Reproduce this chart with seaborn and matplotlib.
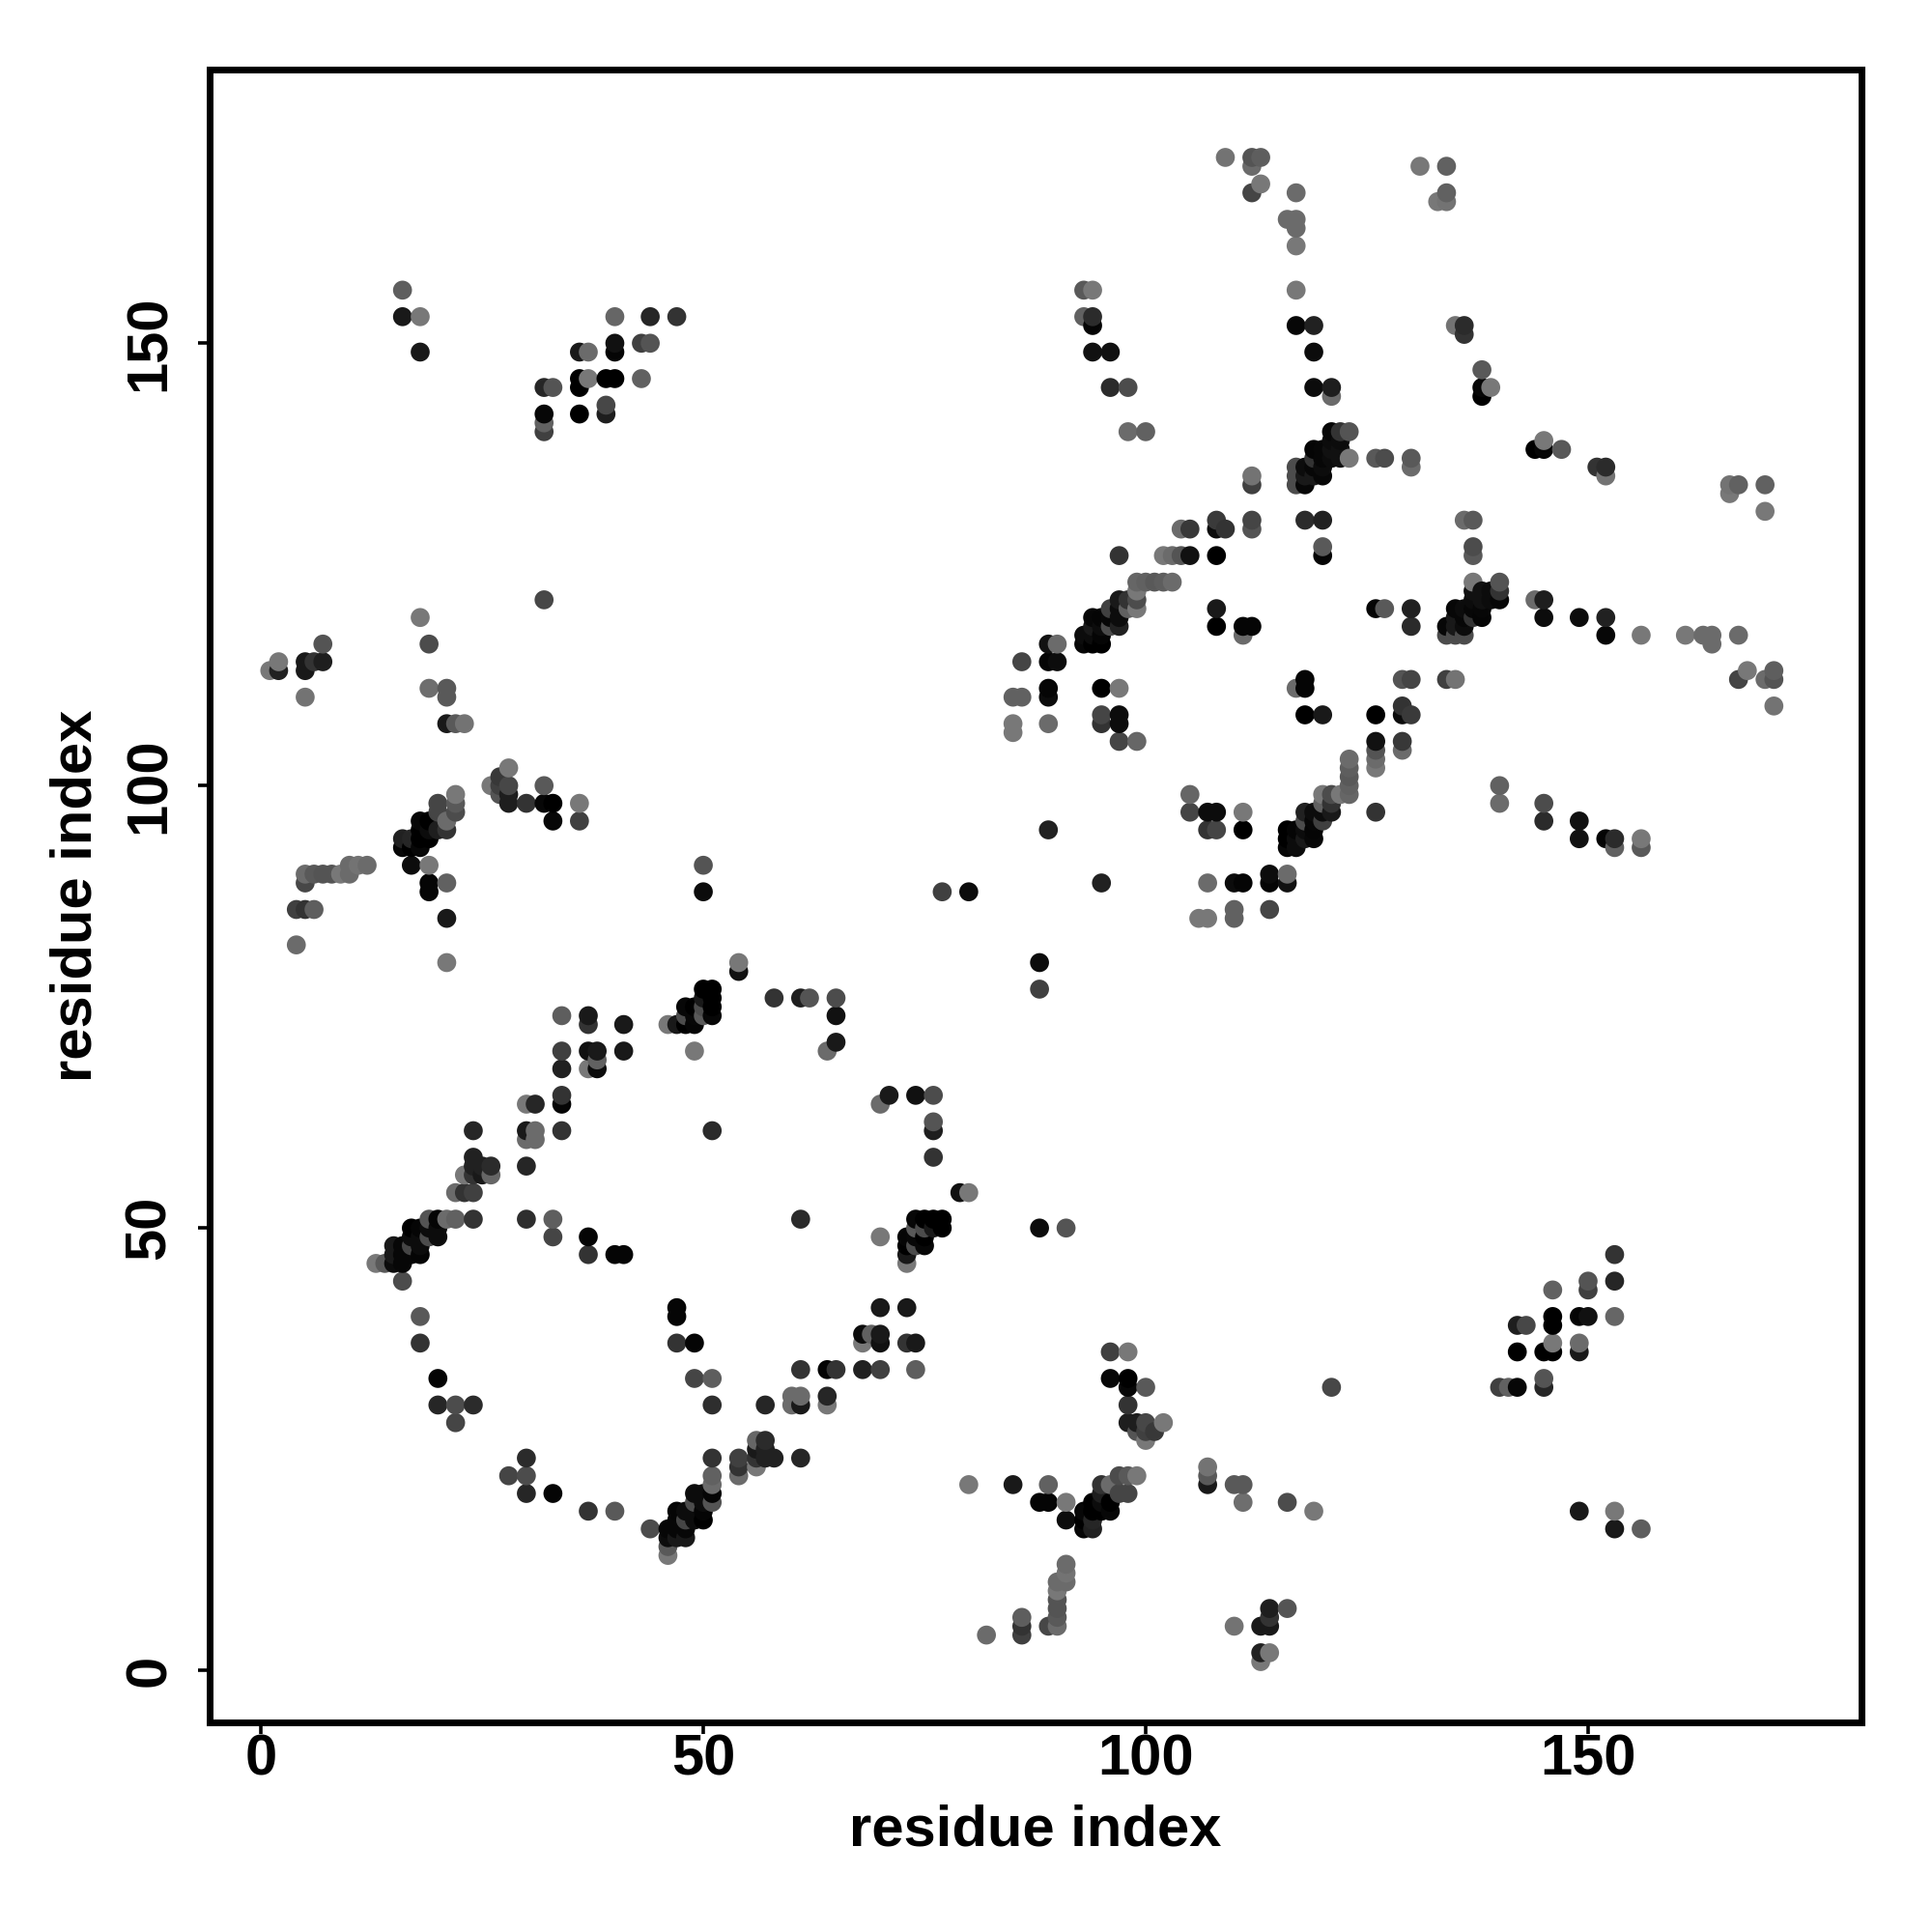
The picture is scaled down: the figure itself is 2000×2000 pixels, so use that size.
# Mapa de contactos entre residuos, la matriz es simetrica asi que
# solo guardo la mitad de arriba (i < j) y la otra sale al espejo

import numpy as np
import pandas as pd
import matplotlib
matplotlib.use("Agg")
import matplotlib.pyplot as plt
import seaborn as sns

# i de cada contacto, bloque por bloque
residue_i = [
    1, 2, 2, 4, 4, 5, 5, 5, 5, 5, 5, 6, 6, 6, 7, 7, 7, 8, 9, 10, 10, 11, 12, 13, 14,
    15, 15, 15, 16, 16, 16, 16, 16, 16, 16, 16,
    17, 17, 17, 17, 17, 17, 17,
    18, 18, 18, 18, 18, 18, 18, 18, 18, 18, 18, 18, 18,
    19, 19, 19, 19, 19, 19, 19, 19, 19, 19, 19,
    20, 20, 20, 20, 20, 20, 20, 20,
    21, 21, 21, 21, 21, 21, 21, 21, 21,
    22, 22, 22, 22, 22, 22, 22, 22,
    23, 23, 23, 24, 24, 24, 24, 24, 24, 24, 25, 25, 26, 26, 26,
    27, 27, 27, 28, 28, 28, 28,
    30, 30, 30, 30, 30, 30, 31, 31, 31,
    32, 32, 32, 32, 32, 32, 32, 33, 33, 33, 33, 33,
    34, 34, 34, 34, 34, 34, 36, 36, 36, 36, 36, 36,
    37, 37, 37, 37, 37, 37, 37, 37, 38, 38, 38, 39, 39, 39,
    40, 40, 40, 40, 40, 41, 41, 41, 43, 43, 44, 44, 46, 47, 47,
    48, 48, 48, 49, 49, 49, 49, 50, 50, 50, 50, 50, 50,
    51, 51, 51, 51, 51, 54, 54, 58, 61, 62, 64, 65, 65, 65, 77, 80,
    85, 85, 85, 86, 86, 89, 89, 89, 89, 89, 89, 90, 90,
    93, 93, 93, 93, 94, 94, 94, 94, 94, 94, 94, 94,
    95, 95, 95, 95, 95, 95, 95, 96, 96, 96, 96, 96,
    97, 97, 97, 97, 97, 97, 97, 97, 97, 98, 98, 98, 98,
    99, 99, 99, 99, 99, 100, 100, 101, 102, 102, 103, 103, 104, 104, 105, 105,
    108, 108, 108, 108, 108, 109, 109, 111, 111,
    112, 112, 112, 112, 112, 112, 112, 112, 113, 113, 116,
    117, 117, 117, 117, 117, 117, 117, 117, 117, 118, 118, 118, 118,
    119, 119, 119, 119, 119, 119, 119,
    120, 120, 120, 120, 120, 120, 120,
    121, 121, 121, 121, 121, 121, 122, 122, 122, 122, 123, 123,
    126, 127, 130, 130, 131, 133, 134, 134, 134, 135, 136, 136, 138, 138, 138, 139,
]

# j de cada contacto, mismo orden
residue_j = [
    113, 113, 114, 82, 86, 86, 89, 90, 110, 113, 114, 86, 90, 114, 90, 114, 116, 90, 90, 90, 91, 91, 91, 46, 46,
    46, 47, 48, 44, 46, 47, 48, 93, 94, 153, 156,
    47, 48, 49, 50, 91, 93, 94,
    37, 40, 47, 48, 49, 50, 93, 94, 95, 96, 119, 149, 153,
    49, 50, 51, 88, 89, 91, 94, 95, 96, 111, 116,
    30, 33, 49, 50, 51, 95, 97, 98,
    51, 80, 85, 89, 95, 96, 107, 110, 111,
    28, 30, 51, 54, 97, 98, 99, 107,
    54, 56, 107, 30, 51, 54, 56, 57, 58, 61, 56, 57, 56, 57, 100,
    99, 100, 101, 98, 99, 100, 102,
    51, 57, 60, 61, 64, 98, 60, 61, 64,
    98, 100, 121, 140, 141, 142, 145, 49, 51, 96, 98, 145,
    61, 64, 65, 68, 70, 74, 96, 98, 142, 145, 146, 149,
    47, 49, 68, 70, 73, 74, 146, 149, 68, 69, 70, 142, 143, 146,
    47, 146, 149, 150, 153, 47, 70, 73, 146, 150, 150, 153, 73, 73, 153,
    73, 74, 75, 70, 73, 74, 75, 74, 75, 76, 77, 88, 91,
    61, 74, 75, 76, 77, 79, 80, 76, 76, 76, 70, 71, 74, 76, 88, 88,
    106, 107, 110, 110, 114, 95, 107, 110, 111, 114, 116, 114, 116,
    116, 117, 153, 156, 116, 117, 118, 119, 149, 152, 153, 156,
    107, 108, 111, 116, 117, 118, 119, 118, 119, 120, 145, 149,
    105, 107, 108, 111, 118, 119, 120, 121, 126, 120, 121, 140, 145,
    105, 120, 121, 122, 123, 123, 140, 123, 123, 126, 123, 126, 126, 129, 126, 129,
    118, 120, 126, 129, 130, 129, 171, 117, 118,
    118, 129, 130, 134, 135, 167, 170, 171, 168, 171, 164,
    134, 135, 136, 152, 156, 161, 163, 164, 167, 130, 134, 135, 136,
    135, 136, 137, 138, 145, 149, 152,
    126, 127, 130, 135, 136, 137, 138,
    137, 138, 139, 140, 144, 145, 137, 138, 139, 140, 137, 140,
    137, 137, 136, 137, 170, 166, 166, 167, 170, 152, 151, 152, 144, 145, 147, 145,
]

# tono de gris de cada punto (0 negro, 0.5 gris medio)
shade = [
    .47, .13, .47, .42, .25, .2, .28, .42, .45, .1, .1, .37, .35, .2, .33, .12, .33, .33, .47, .42, .42, .45, .42, .47, .35,
    .05, .1, .1, .3, .03, .03, .03, .03, .13, .1, .37,
    .03, .27, .05, 0, .05, 0, .15,
    .2, .35, .02, .05, .05, .02, .03, 0, 0, .03, .47, .1, .47,
    .3, .05, .33, .02, .02, .47, 0, .05, 0, .43, .3,
    .15, .02, .05, .05, .02, .12, .27, .27,
    .42, .47, .1, .38, .2, .42, .1, .35, .35,
    .27, .3, .38, .42, .3, .35, .47, .35,
    .2, .47, .45, .17, .2, .25, .2, .13, .13, .15, .1, .13, .4, .17, .47,
    .33, .25, .22, .12, .12, .28, .47,
    .18, .15, .42, .1, .47, .2, .42, .42, .15,
    .03, .35, .28, .25, .38, .03, .15, .27, .37, .03, 0, .33,
    .2, .02, .2, .13, .25, .37, .25, .47, 0, 0, 0, .1,
    .2, .02, .47, .07, .2, .1, .47, .42, .05, .38, .1, .12, .28, 0,
    .02, 0, .02, .07, .4, .02, .1, .1, .38, .25, .33, .15, .47, .1, .2,
    0, .3, .03, .47, .02, .03, 0, .35, .3, .1, 0, .05, .33,
    .17, .03, 0, 0, 0, .07, .47, .2, .12, .33, .42, .1, .07, .3, .25, .05,
    .47, .47, .38, .38, .27, .13, .42, .05, .02, .02, .07, .05, .42,
    .03, .05, .38, .35, 0, .05, .1, .03, .07, .02, .17, .47,
    .2, .27, 0, 0, .02, .05, .02, .3, .03, .25, .17, .07,
    .27, .05, .05, .47, .13, .05, .05, .1, .2, .38, .2, .42, .3,
    .4, .47, .3, .47, .4, .38, .38, .35, .37, .47, .42, .42, .33, .42, .07, .22,
    0, .1, 0, .05, .23, .2, .45, .42, .02,
    .02, .33, .27, .25, .45, .27, .42, .33, .47, .37, .42,
    .3, .3, .3, .03, .47, .47, .42, .42, .42, .17, .03, .1, .05,
    .1, .03, .2, .02, .05, .05, .13,
    .02, .35, .13, .03, .05, .03, .03,
    .05, .07, .05, .03, .42, .12, .07, .07, .05, .2, .47, .33,
    .35, .3, .42, .35, .47, .47, .45, .38, .38, .45, .2, .17, 0, .03, .35, .47,
]

tick_values = [0, 50, 100, 150]
axis_label = "residue index"

# espejo de la matriz y orden por columna, asi se pintaron en el original
contactos = pd.DataFrame({"i": residue_i, "j": residue_j, "shade": shade})
espejo = contactos.rename(columns={"i": "j", "j": "i"})
df = pd.concat([contactos, espejo]).sort_values(["i", "j"], kind="stable")

sns.set_theme(style="white")
plt.rcParams["font.family"] = ["Liberation Sans", "DejaVu Sans"]

fig = plt.figure(figsize=(10, 10), dpi=200)
ax = fig.add_axes([217 / 2000, 1 - 1783 / 2000, 1710 / 2000, 1711 / 2000])

sns.scatterplot(data=df, x="i", y="j", hue="shade", palette="gray",
                hue_norm=(0, 1), legend=False, s=50, linewidth=0, ax=ax)

ax.set_xlim(-5.8, 180.9)
ax.set_ylim(-5.87, 180.93)
ax.set_xticks(tick_values)
ax.set_yticks(tick_values)
ax.tick_params(axis="both", length=4.3, width=1.3, color="black",
               labelsize=21.5, labelcolor="black", bottom=True, left=True)
ax.tick_params(axis="x", pad=-0.3)
ax.tick_params(axis="y", pad=8)
for t in ax.get_xticklabels():
    t.set_fontweight("bold")
for t in ax.get_yticklabels():
    t.set_fontweight("bold")
    t.set_rotation(90)
    t.set_va("center")

ax.set_xlabel(axis_label, fontsize=21.5, fontweight="bold", color="black", va="center")
ax.set_ylabel(axis_label, fontsize=21.5, fontweight="bold", color="black", va="center")
ax.xaxis.set_label_coords(0.5, -0.0655)
ax.yaxis.set_label_coords(-0.0807, 0.5)

for lado in ax.spines.values():
    lado.set_visible(True)
    lado.set_color("black")
    lado.set_linewidth(2.5)

fig.savefig("out.png", dpi=200)
